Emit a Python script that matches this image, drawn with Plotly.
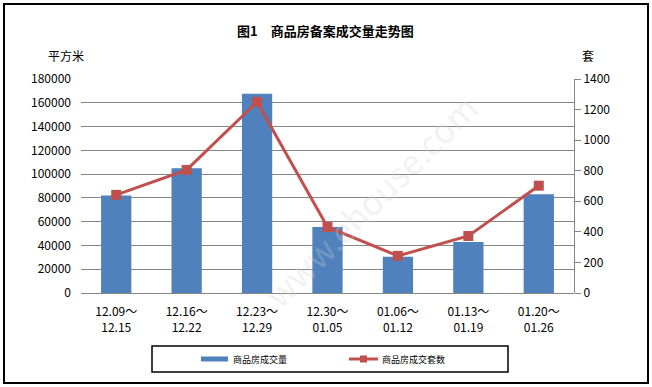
import plotly.graph_objects as go

categories = ["12.09～<br>12.15", "12.16～<br>12.22", "12.23～<br>12.29", "12.30～<br>01.05",
              "01.06～<br>01.12", "01.13～<br>01.19", "01.20～<br>01.26"]
area_values = [82000, 105000, 167500, 55500, 30500, 43000, 83000]
unit_values = [642, 805, 1250, 432, 243, 373, 702]
left_ticks = [0, 20000, 40000, 60000, 80000, 100000, 120000, 140000, 160000, 180000]
right_ticks = [0, 200, 400, 600, 800, 1000, 1200, 1400]

FONT = "Noto Sans CJK SC"
BLUE = "#4F81BD"
RED = "#C0504D"
GRID = "#868686"

L, R, T, B = 81, 652 - 574, 79, 387 - 293
PW, PH = 652 - L - R, 387 - T - B


def px(x):
    return (x - L) / PW


def py(y):
    return (387 - B - y) / PH


fig = go.Figure()
fig.add_trace(go.Bar(x=categories, y=area_values, name="商品房成交量",
                     marker=dict(color=BLUE, line=dict(width=0)), width=0.43,
                     showlegend=False))
fig.add_trace(go.Scatter(x=categories, y=unit_values, name="商品房成交套数", yaxis="y2",
                         mode="lines+markers",
                         line=dict(color=RED, width=3),
                         marker=dict(symbol="square", size=10, color=RED),
                         showlegend=False))

shapes = [
    # outer border
    dict(type="rect", xref="paper", yref="paper", x0=px(4), x1=px(648), y0=py(383), y1=py(4),
         line=dict(color="black", width=2), layer="below"),
    # legend box
    dict(type="rect", xref="paper", yref="paper", x0=px(152), x1=px(508), y0=py(372), y1=py(346),
         line=dict(color="black", width=1.5)),
    # legend swatches
    dict(type="line", xref="paper", yref="paper", x0=px(201), x1=px(228), y0=py(359), y1=py(359),
         line=dict(color=BLUE, width=5)),
    dict(type="line", xref="paper", yref="paper", x0=px(349), x1=px(378), y0=py(359), y1=py(359),
         line=dict(color=RED, width=3)),
    dict(type="rect", xref="paper", yref="paper", x0=px(360), x1=px(367), y0=py(362.5), y1=py(355.5),
         fillcolor=RED, line=dict(width=0)),
]

annotations = [
    dict(text="<b>图1　商品房备案成交量走势图</b>", xref="paper", yref="paper", x=px(325), y=py(31),
         showarrow=False, font=dict(family=FONT, size=13, color="black"), xanchor="center", yanchor="middle"),
    dict(text="平方米", xref="paper", yref="paper", x=px(66), y=py(55), showarrow=False,
         font=dict(family=FONT, size=12, color="black"), xanchor="center", yanchor="middle"),
    dict(text="套", xref="paper", yref="paper", x=px(588), y=py(55), showarrow=False,
         font=dict(family=FONT, size=12, color="black"), xanchor="center", yanchor="middle"),
    dict(text="商品房成交量", xref="paper", yref="paper", x=px(231), y=py(359), showarrow=False,
         font=dict(family=FONT, size=9, color="black"), xanchor="left", yanchor="middle"),
    dict(text="商品房成交套数", xref="paper", yref="paper", x=px(380), y=py(359), showarrow=False,
         font=dict(family=FONT, size=9, color="black"), xanchor="left", yanchor="middle"),
    dict(text="www.ehouse.com", xref="paper", yref="paper", x=px(370), y=py(200), showarrow=False,
         textangle=-45, font=dict(family=FONT, size=34, color="rgba(210,210,210,0.3)"),
         xanchor="center", yanchor="middle"),
]

fig.update_layout(
    width=652, height=387,
    margin=dict(l=L, r=R, t=T, b=B),
    paper_bgcolor="white", plot_bgcolor="white",
    font=dict(family=FONT, size=12, color="black"),
    bargap=0.57,
    xaxis=dict(showgrid=False, showline=False, ticks="", tickfont=dict(size=12),
               ticklabelstandoff=10, zeroline=False),
    yaxis=dict(range=[0, 180000], tickvals=left_ticks, ticktext=[str(v) for v in left_ticks],
               showgrid=True, gridcolor=GRID, gridwidth=1, zeroline=True, zerolinecolor=GRID,
               zerolinewidth=1, showline=False, ticks="", ticklabelstandoff=9,
               tickfont=dict(size=12)),
    yaxis2=dict(range=[0, 1400], tickvals=right_ticks, ticktext=[str(v) for v in right_ticks],
                overlaying="y", side="right", showgrid=False, zeroline=False,
                showline=True, linecolor=GRID, linewidth=1, ticks="outside", ticklen=6,
                tickcolor=GRID, tickfont=dict(size=12)),
    shapes=shapes,
    annotations=annotations,
)

fig.write_html("out.html", config={"displayModeBar": False},
               post_script="document.body.style.margin='0px';document.body.style.overflow='hidden';")
